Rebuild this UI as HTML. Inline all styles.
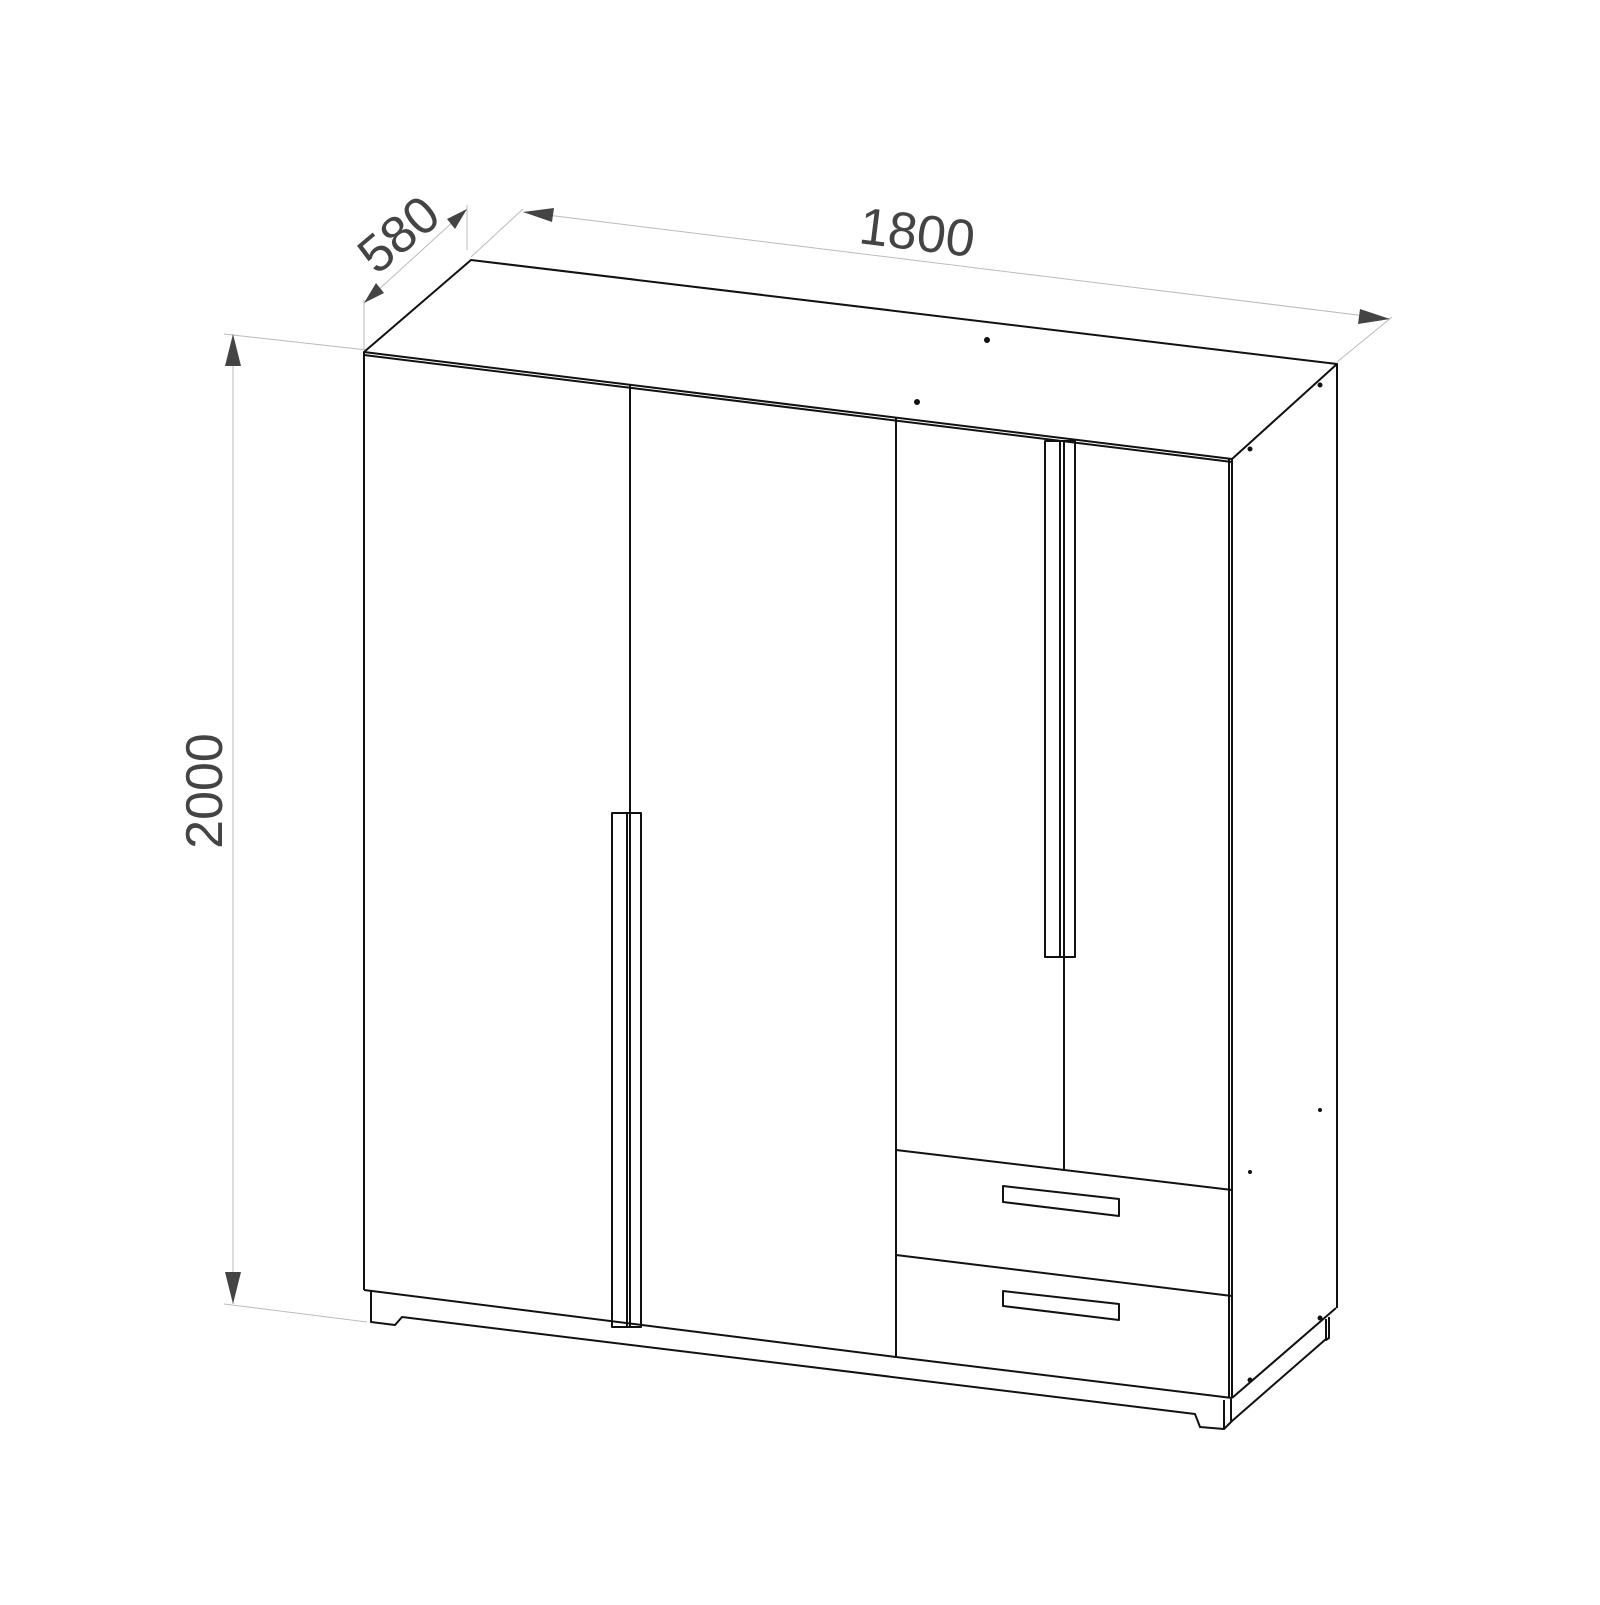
<!DOCTYPE html>
<html><head><style>html,body{margin:0;background:#fff}</style></head><body>
<svg width="1600" height="1600" viewBox="0 0 1600 1600" xmlns="http://www.w3.org/2000/svg">
<defs>
<marker id="a" markerWidth="10" markerHeight="10" refX="0" refY="5" orient="auto" markerUnits="userSpaceOnUse" viewBox="0 0 10 10">
<path d="M0,5 L10,0 L10,10 Z" fill="#444"/></marker>
</defs>
<g stroke="#bbb" stroke-width="1" fill="none">
<line x1="224" y1="334" x2="367" y2="350"/>
<line x1="224" y1="1304" x2="367" y2="1322"/>
<line x1="471" y1="257" x2="523" y2="209"/>
<line x1="1337" y1="362" x2="1392" y2="317"/>
<line x1="364" y1="350" x2="364" y2="300"/>
<line x1="467" y1="250" x2="467" y2="205"/>
<line x1="233" y1="334" x2="233" y2="1304"/>
<line x1="523" y1="212" x2="1390" y2="319"/>
<line x1="364" y1="303" x2="467" y2="209"/>
</g>
<g fill="#444">
<path d="M233,334 L225,366 L241,366 Z"/>
<path d="M233,1304 L225,1272 L241,1272 Z"/>
<path d="M523,212 L554,208 L552,222 Z"/>
<path d="M1390,319 L1360,309 L1358,324 Z"/>
<path d="M364,303 L376,283 L384,293 Z"/>
<path d="M467,209 L455,229 L447,219 Z"/>
</g>
<g font-family="Liberation Sans, sans-serif" font-size="52" fill="#444" text-anchor="middle">
<text x="0" y="0" transform="translate(222,791) rotate(-90)">2000</text>
<text x="0" y="0" transform="translate(915,250) rotate(7)">1800</text>
<text x="0" y="0" transform="translate(410,248) rotate(-40)">580</text>
</g>
<g stroke="#111" stroke-width="2" fill="none" stroke-linejoin="round">
<polygon points="364,352 471,260 1337,364 1232,459"/>
<line x1="364" y1="355" x2="1232" y2="462"/>
<line x1="364" y1="352" x2="364" y2="1290"/>
<line x1="1232" y1="459" x2="1232" y2="1398"/>
<line x1="1229" y1="459" x2="1229" y2="1398"/>
<line x1="1337" y1="364" x2="1337" y2="1308"/>
<line x1="1232" y1="1398" x2="1336" y2="1308"/>
<polyline points="364,1290 896,1357 1232,1398"/>
<polyline points="371,1291 371,1322 395,1325 402,1317 1195,1414 1200,1427 1224,1429 1232,1421 1326,1339"/>
<line x1="1224" y1="1429" x2="1224" y2="1400"/>
<line x1="1231" y1="1421" x2="1231" y2="1399"/>
<polyline points="1326,1319 1326,1340 1329,1338 1329,1317"/>
<line x1="630" y1="385" x2="630" y2="1327"/>
<line x1="896" y1="418" x2="896" y2="1357"/>
<line x1="1064" y1="441" x2="1064" y2="1171"/>
<line x1="896" y1="1150" x2="1232" y2="1190"/>
<line x1="896" y1="1255" x2="1232" y2="1296"/>
<rect x="612" y="813" width="15" height="514"/>
<rect x="627" y="813" width="14" height="514"/>
<rect x="1045" y="441" width="15" height="516"/>
<rect x="1060" y="441" width="15" height="516"/>
<polygon points="1003,1186 1119,1199 1119,1216 1003,1202"/>
<polygon points="1003,1291 1119,1304 1119,1320 1003,1306"/>
</g>
<g fill="#111">
<circle cx="987" cy="340" r="3"/><circle cx="917" cy="402" r="3"/>
<circle cx="1320" cy="385" r="2.5"/><circle cx="1250" cy="449" r="2.5"/>
<circle cx="1320" cy="1110" r="2"/><circle cx="1250" cy="1172" r="2"/>
<circle cx="1320" cy="1318" r="2.5"/><circle cx="1250" cy="1380" r="2.5"/>
</g>
</svg>
</body></html>
